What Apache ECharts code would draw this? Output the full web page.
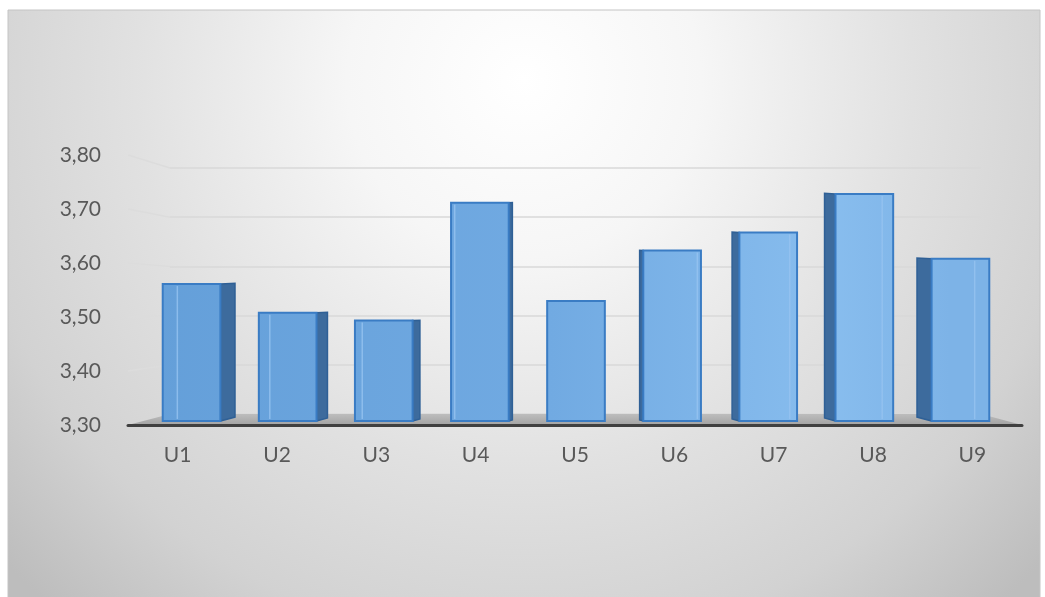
<!DOCTYPE html>
<html>
<head>
<meta charset="utf-8">
<script src="https://cdn.jsdelivr.net/npm/echarts@6/dist/echarts.min.js"></script>
<style>
html,body{margin:0;padding:0;background:#ffffff;}
#c{width:1045px;height:597px;}
</style>
</head>
<body>
<div id="c"></div>
<script>
// ---- data ----
const categories = ['U1', 'U2', 'U3', 'U4', 'U5', 'U6', 'U7', 'U8', 'U9'];
const values = [3.566, 3.510, 3.495, 3.724, 3.533, 3.631, 3.666, 3.741, 3.615];
const yTickLabels = ['3,30', '3,40', '3,50', '3,60', '3,70', '3,80'];
const yMin = 3.3;
const yMax = 3.8;
const yStep = 0.1;

// ---- layout ----
const W = 1045, H = 597;
const frontGrid = { left: 128, right: 23, top: 155, bottom: 172 };  // labels / axis line
const backGrid = { left: 170, right: 64, top: 168, bottom: 183 };   // back wall gridlines
const barGrid = { left: 143.5, right: 36.5, top: 163.5, bottom: 176 }; // bar front faces
const FONT = 'Lato, "Open Sans", sans-serif';

const chart = echarts.init(document.getElementById('c'), null, { renderer: 'canvas' });

function renderBar(params, api) {
  const idx = api.value(0);
  const v = api.value(1);
  const top = api.coord([idx, v]);
  const base = api.coord([idx, yMin]);
  const band = api.size([1, 0])[0];
  const w = band * 0.6;
  const cs = params.coordSys;
  const vp = cs.x + cs.width / 2;
  const s = (vp - top[0]) * 0.038;
  const left = top[0] - w / 2, right = top[0] + w / 2;
  const y0 = top[1], y1 = base[1];
  const children = [];
  const edge = s >= 0 ? right : left;
  if (Math.abs(s) > 1) {
    children.push({
      type: 'polygon',
      shape: { points: [[edge, y0], [edge + s, y0 - Math.abs(s) * 0.05], [edge + s, y1 - Math.abs(s) * 0.27], [edge, y1]] },
      style: { fill: '#3d6b9d', stroke: '#2f6096', lineWidth: 1.5 }
    });
  }
  children.push({
    type: 'rect',
    shape: { x: left, y: y0, width: w, height: y1 - y0 },
    style: {
      fill: new echarts.graphic.LinearGradient(150, 0, 950, 0, [
        { offset: 0, color: '#649fd9' },
        { offset: 0.5, color: '#71aae2' },
        { offset: 0.85, color: '#88bdee' },
        { offset: 1, color: '#7db3e7' }
      ], true),
      stroke: '#3a7cc4',
      lineWidth: 2
    }
  });
  const ix = s >= 0 ? left + s : right + s;
  if (Math.abs(s) > 1) {
    children.push({
      type: 'line',
      shape: { x1: ix, y1: y0 + 2, x2: ix, y2: y1 - 2 },
      style: { stroke: 'rgba(150,195,240,0.8)', lineWidth: 1.5 }
    });
  }
  return { type: 'group', children: children };
}

const option = {
  animation: false,
  backgroundColor: '#ffffff',
  grid: [
    Object.assign({ containLabel: false }, frontGrid),
    Object.assign({ containLabel: false }, backGrid),
    Object.assign({ containLabel: false }, barGrid)
  ],
  xAxis: [
    {
      type: 'category', gridIndex: 0, data: categories, z: 5,
      axisLine: { show: true, lineStyle: { color: '#404040', width: 3 } },
      axisTick: { show: false },
      axisLabel: { color: '#595959', fontFamily: FONT, fontSize: 21, margin: 20 }
    },
    { type: 'category', gridIndex: 1, data: categories, show: false },
    { type: 'category', gridIndex: 2, data: categories, show: false }
  ],
  yAxis: [
    {
      type: 'value', gridIndex: 0, min: yMin, max: yMax, interval: yStep,
      axisLine: { show: false }, axisTick: { show: false }, splitLine: { show: false },
      axisLabel: {
        color: '#595959', fontFamily: FONT, fontSize: 21, margin: 27,
        formatter: function (v) { return yTickLabels[Math.round((v - yMin) / yStep)]; }
      }
    },
    {
      type: 'value', gridIndex: 1, min: yMin, max: yMax, interval: yStep,
      axisLine: { show: false }, axisTick: { show: false }, axisLabel: { show: false },
      splitLine: { show: true, lineStyle: { color: '#d9d9d9', width: 1.5 } }
    },
    { type: 'value', gridIndex: 2, min: yMin, max: yMax, show: false }
  ],
  series: [
    {
      type: 'custom',
      xAxisIndex: 2,
      yAxisIndex: 2,
      z: 3,
      renderItem: renderBar,
      data: values.map(function (v, i) { return [i, v]; })
    }
  ]
};

chart.setOption(option);

// decorations derived from the axes: background, perspective gridline stubs, floor
const graphics = [];
graphics.push({
  type: 'rect', z: -100, silent: true,
  shape: { x: 8, y: 10, width: W - 13, height: H - 8 },
  style: {
    fill: new echarts.graphic.RadialGradient(0.5, 0.12, 1.2, [
      { offset: 0, color: '#ffffff' },
      { offset: 0.25, color: '#f6f6f6' },
      { offset: 0.55, color: '#e1e1e1' },
      { offset: 0.8, color: '#d2d2d2' },
      { offset: 1, color: '#bdbdbd' }
    ]),
    stroke: '#c4c4c4', lineWidth: 1
  }
});
const frontX = frontGrid.left;
const backX = backGrid.left;
for (let i = 1; i < yTickLabels.length; i++) {
  const v = yMin + i * yStep;
  const fy = chart.convertToPixel({ yAxisIndex: 0 }, v);
  const by = chart.convertToPixel({ yAxisIndex: 1 }, v);
  graphics.push({
    type: 'line', z: -1, silent: true,
    shape: { x1: frontX, y1: fy, x2: backX, y2: by },
    style: { stroke: '#dcdcdc', lineWidth: 1.5 }
  });
}
const fBase = chart.convertToPixel({ yAxisIndex: 0 }, yMin);
const bBase = chart.convertToPixel({ yAxisIndex: 1 }, yMin);
graphics.push({
  type: 'polygon', z: 1, silent: true,
  shape: { points: [[frontGrid.left, fBase], [backGrid.left, bBase], [W - backGrid.right, bBase], [W - frontGrid.right, fBase]] },
  style: {
    fill: new echarts.graphic.LinearGradient(0, 0, 0, 1, [
      { offset: 0, color: '#bdbdbd' },
      { offset: 1, color: '#a3a3a3' }
    ])
  }
});
chart.setOption({ graphic: graphics });
</script>
</body>
</html>
